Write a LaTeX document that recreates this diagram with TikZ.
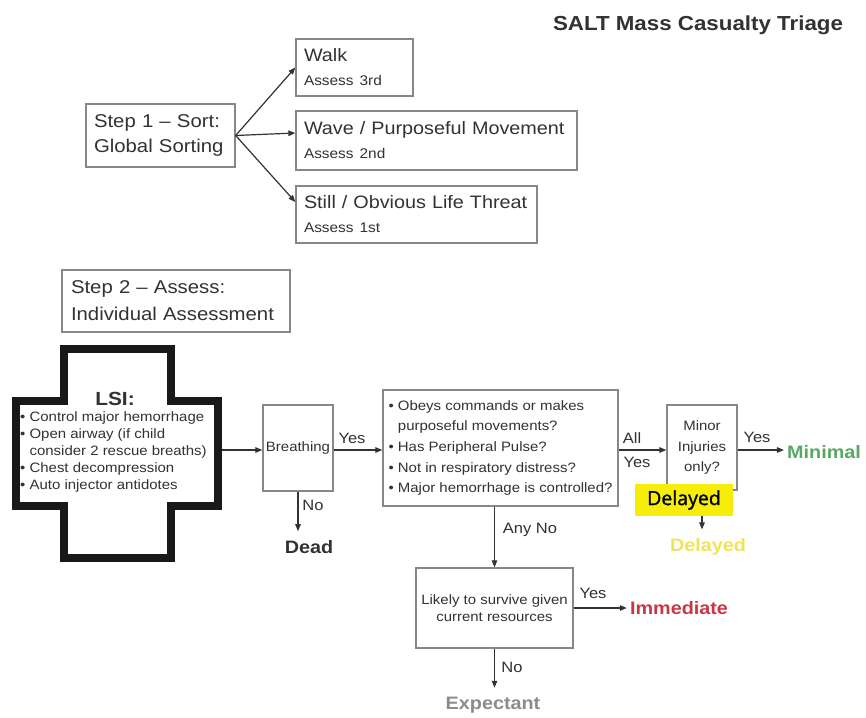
\documentclass[tikz,border=0pt]{standalone}
\usepackage{fontspec}
\setmainfont{Liberation Sans}[FakeStretch=1.1]
\newfontfamily\tagfont{Open Sans}[FakeBold=1.2]
\usetikzlibrary{arrows.meta}

\definecolor{ink}{RGB}{50,50,50}
\definecolor{edge}{RGB}{135,135,135}
\definecolor{crossink}{RGB}{25,25,25}
\definecolor{mingreen}{RGB}{88,168,98}
\definecolor{immred}{RGB}{200,55,68}
\definecolor{delayyellow}{RGB}{238,228,90}
\definecolor{expgray}{RGB}{140,140,140}
\definecolor{hilite}{RGB}{246,238,10}

\newcommand\fsz[2]{\fontsize{#1}{#2}\selectfont}
\newcommand\cont{\hphantom{•}\ }

\begin{document}
\begin{tikzpicture}[x=1pt,y=-1pt,
  bx/.style={draw=edge, line width=1.3pt, text=ink, inner sep=0pt},
  arr/.style={draw=ink, line width=1.2pt, -{Triangle[length=7pt,width=5.5pt]}},
  lbl/.style={text=ink, font=\fsz{15}{17}, inner sep=1pt},
  outcome/.style={font=\bfseries\fsz{18}{20}, inner xsep=3pt, inner ysep=9pt},
]
\useasboundingbox[fill=white] (0,0) rectangle (866,717);

% title
\node[text=ink, font=\bfseries\fsz{20.3}{24}] (title) at (698,25) {SALT Mass Casualty Triage};

% step 1: global sorting
\node[bx, minimum width=149pt, minimum height=63pt, text width=133pt, align=left,
      font=\fsz{18.5}{25}] (sort) at (160.5,135.5) {Step 1 – Sort:\\Global Sorting};
\node[bx, minimum width=117pt, minimum height=57pt, text width=101pt, align=left,
      font=\fsz{18}{24}] (walk) at (354.5,67.5) {Walk\\{\fsz{14}{17}Assess 3rd}};
\node[bx, minimum width=281pt, minimum height=59pt, text width=265pt, align=left,
      font=\fsz{18}{24}] (wave) at (436.5,140.5) {Wave / Purposeful Movement\\{\fsz{14}{17}Assess 2nd}};
\node[bx, minimum width=241pt, minimum height=57pt, text width=225pt, align=left,
      font=\fsz{18}{24}] (still) at (416.5,214.5) {Still / Obvious Life Threat\\{\fsz{14}{17}Assess 1st}};

\draw[arr] (sort.east) -- (walk.west);
\draw[arr] (sort.east) -- ([yshift=7.5pt]wave.west);
\draw[arr] (sort.east) -- ([yshift=12.5pt]still.west);

% step 2: individual assessment
\node[bx, minimum width=228pt, minimum height=62pt, text width=210pt, align=left,
      font=\fsz{18.5}{27}] (assess) at (176,301) {Step 2 – Assess:\\Individual Assessment};

% lifesaving interventions cross
\draw[draw=crossink, line width=8pt, line join=miter]
  (64,349) -- (171,349) -- (171,401) -- (218,401) -- (218,506) -- (171,506)
  -- (171,558) -- (64,558) -- (64,506) -- (16,506) -- (16,401) -- (64,401) -- cycle;
\node[text=ink, font=\bfseries\fsz{19}{22}] (lsititle) at (115,399) {LSI:};
\node[anchor=west, align=left, text=ink, inner sep=0pt, font=\fsz{13.6}{17}] (lsilist) at (20,452)
  {• Control major hemorrhage\\
   • Open airway (if child\\
   \cont consider 2 rescue breaths)\\
   • Chest decompression\\
   • Auto injector antidotes};
\coordinate (lsiedge) at (222,450);

% decision boxes
\node[bx, minimum width=70pt, minimum height=86pt, font=\fsz{13.6}{17}] (breath) at (298,448) {Breathing};
\node[bx, minimum width=235pt, minimum height=116pt, align=left, font=\fsz{13.6}{20.7}] (quest) at (500.5,448)
  {• Obeys commands or makes\\
   \cont purposeful movements?\\
   • Has Peripheral Pulse?\\
   • Not in respiratory distress?\\
   • Major hemorrhage is controlled?};
\node[bx, minimum width=70pt, minimum height=85pt, align=center, font=\fsz{13.6}{20.7}] (minor) at (702,447.5)
  {Minor\\Injuries\\only?};
\node[bx, minimum width=157pt, minimum height=80pt, align=center, font=\fsz{13.6}{17}] (likely) at (494.5,608)
  {Likely to survive given\\current resources};

% outcomes
\node[outcome, text=ink] (dead) at (309,547) {Dead};
\node[outcome, text=mingreen] (minimal) at (824,452) {Minimal};
\node[outcome, text=delayyellow] (delayed) at (708,547) {Delayed};
\node[outcome, text=immred] (immed) at (679,608) {Immediate};
\node[outcome, text=expgray] (expect) at (493,705) {Expectant};

% connectors
\draw[arr] (lsiedge) -- (lsiedge -| breath.west);
\draw[arr] (lsiedge -| breath.east) -- (lsiedge -| quest.west);
\draw[arr] (lsiedge -| quest.east) -- (lsiedge -| minor.west);
\draw[arr] (lsiedge -| minor.east) -- (lsiedge -| minimal.west);
\draw[arr] (breath.south) -- (breath.south |- dead.north);
\draw[arr] (minor.south) -- (minor.south |- delayed.north);
\draw[arr] (quest.south -| likely.north) -- (likely.north);
\draw[arr] (likely.east) -- (immed.west);
\draw[arr] (likely.south) -- (likely.south |- expect.north);

% connector labels
\node[lbl] (yesbreath) at (352,438) {Yes};
\node[lbl] (nobreath) at (313,505) {No};
\node[lbl] (allq) at (632,438) {All};
\node[lbl] (yesq) at (637,462) {Yes};
\node[lbl] (yesminor) at (757,437) {Yes};
\node[lbl] (anyno) at (530,530) {Any No};
\node[lbl] (yeslikely) at (593,593) {Yes};
\node[lbl] (nolikely) at (512,667) {No};

% highlighted tag over the minor-injuries box
\node[fill=hilite, text=black, font=\tagfont\fsz{19.5}{22}, minimum width=98pt, minimum height=32pt,
      inner sep=0pt] (delaytag) at (684,500) {Delayed};
\end{tikzpicture}
\end{document}
